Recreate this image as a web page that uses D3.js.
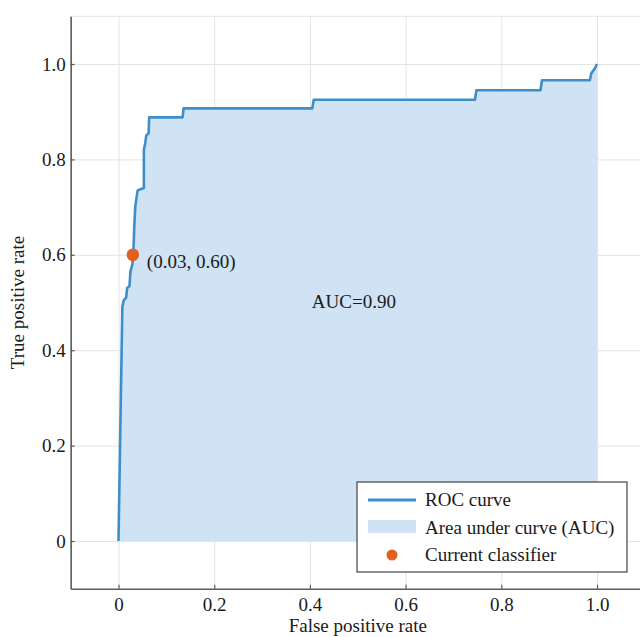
<!DOCTYPE html>
<html>
<head>
<meta charset="utf-8">
<script src="https://cdn.jsdelivr.net/npm/d3@7"></script>
<style>
  body { margin: 0; background: #fff; }
  text { font-family: "Liberation Serif", "Times New Roman", serif; fill: #1a1a1a; }
</style>
</head>
<body>
<div id="chart"></div>
<script>
// ROC curve points
var fpr = [0, 0.008, 0.011, 0.016, 0.018, 0.023, 0.025, 0.029, 0.031, 0.033, 0.035, 0.037,
           0.040, 0.053, 0.053, 0.056, 0.058, 0.063, 0.064, 0.134, 0.136, 0.405, 0.408,
           0.745, 0.748, 0.882, 0.885, 0.985, 0.988, 0.995, 1.0];
var tpr = [0, 0.49, 0.505, 0.51, 0.53, 0.535, 0.565, 0.58, 0.60, 0.66, 0.70, 0.715,
           0.735, 0.74, 0.82, 0.835, 0.85, 0.855, 0.888, 0.888, 0.907, 0.907, 0.925,
           0.925, 0.945, 0.945, 0.966, 0.966, 0.98, 0.99, 1.0];

var classifier = [0.03, 0.60];
var aucLabel = "AUC=0.90";

var xTicks = [0, 0.2, 0.4, 0.6, 0.8, 1.0];
var yTicks = [0, 0.2, 0.4, 0.6, 0.8, 1.0];

var legendLabels = ["ROC curve", "Area under curve (AUC)", "Current classifier"];

function init() {
    var w = 640;
    var h = 637;

    var lineColor = "#3d8ec9";
    var areaColor = "#d0e3f4";
    var dotColor = "#e0601f";
    var gridColor = "#e4e4e4";
    var axisColor = "#5a5a5a";

    var data = fpr.map(function(d, i) { return [d, tpr[i]]; });

    var svg = d3.select("#chart")
                .append("svg")
                .attr("width", w)
                .attr("height", h);

    var xScale = d3.scaleLinear()
                   .domain([-0.1, 1.1])
                   .range([70.65, 644.85]);

    var yScale = d3.scaleLinear()
                   .domain([-0.1, 1.1])
                   .range([588.7, 16.3]);

    var x0 = xScale(-0.1), y0 = yScale(-0.1), y1 = yScale(1.1), x1 = xScale(1.1);

    // grid
    svg.append("g")
       .attr("transform", "translate(0," + y0 + ")")
       .call(d3.axisBottom(xScale).tickValues(xTicks).tickSize(-(y0 - y1)).tickFormat(""))
       .call(function(g) { g.select(".domain").remove(); })
       .selectAll("line").attr("stroke", gridColor);

    svg.append("g")
       .attr("transform", "translate(" + x0 + ",0)")
       .call(d3.axisLeft(yScale).tickValues(yTicks).tickSize(-(x1 - x0)).tickFormat(""))
       .call(function(g) { g.select(".domain").remove(); })
       .selectAll("line").attr("stroke", gridColor);

    svg.append("line")
       .attr("x1", x0).attr("x2", x1)
       .attr("y1", y1).attr("y2", y1)
       .attr("stroke", gridColor);

    // area under curve
    var area = d3.area()
                 .x(function(d) { return xScale(d[0]); })
                 .y0(yScale(0))
                 .y1(function(d) { return yScale(d[1]); });

    svg.append("path")
       .datum(data)
       .attr("d", area)
       .attr("fill", areaColor);

    var line = d3.line()
                 .x(function(d) { return xScale(d[0]); })
                 .y(function(d) { return yScale(d[1]); });

    svg.append("path")
       .datum(data)
       .attr("d", line)
       .attr("fill", "none")
       .attr("stroke", lineColor)
       .attr("stroke-width", 2.6)
       .attr("stroke-linejoin", "round");

    // current classifier
    svg.append("circle")
       .attr("cx", xScale(classifier[0]))
       .attr("cy", yScale(classifier[1]))
       .attr("r", 6.3)
       .attr("fill", dotColor);

    svg.append("text")
       .attr("x", xScale(classifier[0]) + 14)
       .attr("y", yScale(classifier[1]) + 13)
       .style("font-size", "19px")
       .text("(" + classifier[0].toFixed(2) + ", " + classifier[1].toFixed(2) + ")");

    svg.append("text")
       .attr("x", xScale(0.404))
       .attr("y", yScale(0.488))
       .style("font-size", "19px")
       .text(aucLabel);

    // axes
    var fmt = function(d) { return d === 0 ? "0" : d3.format(".1f")(d); };

    var xAxis = svg.append("g")
       .attr("transform", "translate(0," + y0 + ")")
       .call(d3.axisBottom(xScale).tickValues(xTicks).tickSizeInner(-4).tickSizeOuter(0).tickPadding(9).tickFormat(fmt));

    var yAxis = svg.append("g")
       .attr("transform", "translate(" + x0 + ",0)")
       .call(d3.axisLeft(yScale).tickValues(yTicks).tickSizeInner(-4).tickSizeOuter(0).tickPadding(5).tickFormat(fmt));

    [xAxis, yAxis].forEach(function(g) {
        g.select(".domain").attr("stroke", axisColor).attr("stroke-width", 1.6);
        g.selectAll(".tick line").attr("stroke", axisColor).attr("stroke-width", 1.2);
        g.selectAll(".tick text")
         .attr("fill", "#1a1a1a")
         .style("font-family", "'Liberation Serif', serif")
         .style("font-size", "19px");
    });

    svg.append("text")
       .attr("x", xScale(0.5))
       .attr("y", 632)
       .attr("text-anchor", "middle")
       .style("font-size", "19px")
       .text("False positive rate");

    svg.append("text")
       .attr("transform", "translate(24," + yScale(0.5) + ") rotate(-90)")
       .attr("text-anchor", "middle")
       .style("font-size", "19px")
       .text("True positive rate");

    // legend
    var lg = svg.append("g").attr("transform", "translate(357,482)");

    lg.append("rect")
      .attr("width", 270).attr("height", 90)
      .attr("fill", "#fff")
      .attr("stroke", "#444")
      .attr("stroke-width", 1.2);

    lg.append("line")
      .attr("x1", 11).attr("x2", 59)
      .attr("y1", 18).attr("y2", 18)
      .attr("stroke", lineColor)
      .attr("stroke-width", 3);

    lg.append("rect")
      .attr("x", 11).attr("y", 38)
      .attr("width", 48).attr("height", 13)
      .attr("fill", areaColor);

    lg.append("circle")
      .attr("cx", 35).attr("cy", 73)
      .attr("r", 5.5)
      .attr("fill", dotColor);

    lg.selectAll("text.lab")
      .data(legendLabels)
      .enter()
      .append("text")
      .attr("class", "lab")
      .attr("x", 68)
      .attr("y", function(d, i) { return 24 + i * 27.5; })
      .style("font-size", "19px")
      .text(function(d) { return d; });
}

window.onload = init;
</script>
</body>
</html>
